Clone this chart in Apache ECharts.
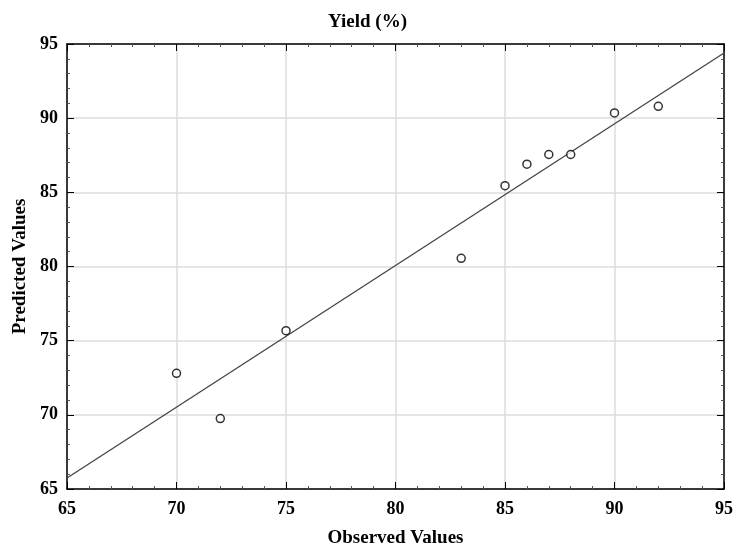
<!DOCTYPE html>
<html>
<head>
<meta charset="utf-8">
<script src="https://cdn.jsdelivr.net/npm/echarts@6/dist/echarts.min.js"></script>
<style>
  html, body { margin: 0; padding: 0; background: #fff; }
  #chart { width: 735px; height: 547px; }
</style>
</head>
<body>
<div id="chart"></div>
<script>
// observed vs predicted yield
const observed = [70, 72, 75, 83, 85, 86, 87, 88, 90, 92];
const predicted = [72.8, 69.75, 75.67, 80.55, 85.45, 86.9, 87.55, 87.55, 90.35, 90.8];
// fitted line end points
const fitX = [65, 95];
const fitY = [65.74, 94.39];

const font = 'Liberation Serif';
const chart = echarts.init(document.getElementById('chart'));

function axisBase(extra) {
  return Object.assign({
    type: 'value',
    min: 65,
    max: 95,
    interval: 5,
    axisLine: { show: true, onZero: false, lineStyle: { color: '#000', width: 1.5 } },
    axisTick: { show: true, inside: true, length: 7, lineStyle: { color: '#000', width: 1 } },
    minorTick: { show: true, splitNumber: 5, length: 3, lineStyle: { color: '#555', width: 1 } },
    splitLine: { show: false },
    axisLabel: { show: false }
  }, extra);
}

const option = {
  backgroundColor: '#fff',
  animation: false,
  title: {
    text: 'Yield (%)',
    left: 'center',
    top: 8,
    textStyle: { fontFamily: font, fontWeight: 'bold', fontSize: 19, color: '#000' }
  },
  grid: { left: 67, right: 11, top: 44, bottom: 58, outerBoundsMode: 'none' },
  xAxis: [
    axisBase({
      position: 'bottom',
      name: 'Observed Values',
      nameLocation: 'middle',
      nameGap: 40,
      nameTextStyle: { fontFamily: font, fontWeight: 'bold', fontSize: 19, color: '#000' },
      splitLine: { show: true, lineStyle: { color: '#dcdcdc', width: 1.5 } },
      axisLabel: { show: true, margin: 11, fontFamily: font, fontWeight: 'bold', fontSize: 18, color: '#000' }
    }),
    axisBase({ position: 'top' })
  ],
  yAxis: [
    axisBase({
      position: 'left',
      name: 'Predicted Values',
      nameLocation: 'middle',
      nameGap: 37,
      nameRotate: 90,
      nameTextStyle: { fontFamily: font, fontWeight: 'bold', fontSize: 19, color: '#000' },
      splitLine: { show: true, lineStyle: { color: '#dcdcdc', width: 1.5 } },
      axisLabel: { show: true, margin: 9, fontFamily: font, fontWeight: 'bold', fontSize: 18, color: '#000' }
    }),
    axisBase({ position: 'right' })
  ],
  series: [
    {
      type: 'line',
      data: fitX.map((x, i) => [x, fitY[i]]),
      showSymbol: false,
      lineStyle: { color: '#444', width: 1.3 },
      silent: true,
      z: 2
    },
    {
      type: 'scatter',
      data: observed.map((x, i) => [x, predicted[i]]),
      symbol: 'circle',
      symbolSize: 8,
      itemStyle: { color: '#fff', borderColor: '#000', borderWidth: 1.5 },
      z: 3
    }
  ]
};

chart.setOption(option);
</script>
</body>
</html>
